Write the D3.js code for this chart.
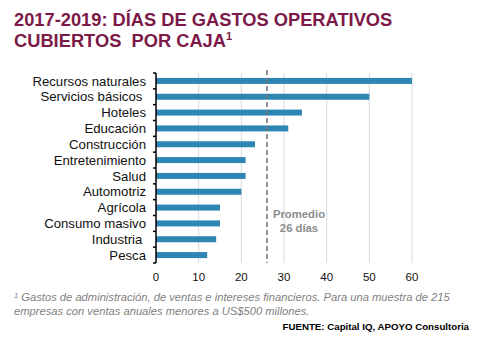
<!DOCTYPE html>
<html>
<head>
<meta charset="utf-8">
<script src="https://cdn.jsdelivr.net/npm/d3@7"></script>
<style>
  body { margin: 0; background: #fff; }
  text { font-family: "Liberation Sans", Arial, sans-serif; white-space: pre; }
</style>
</head>
<body>
<div id="chart"></div>
<script>
var categories = ["Recursos naturales", "Servicios básicos ", "Hoteles", "Educación",
    "Construcción", "Entretenimiento", "Salud", "Automotriz", "Agrícola",
    "Consumo masivo", "Industria ", "Pesca"];
var values = [60, 50, 34.2, 31, 23.2, 21, 21, 20, 15, 15, 14.1, 12];
var xTicks = [0, 10, 20, 30, 40, 50, 60];
var promedio = 26;

var width = 477, height = 339;
var margin = { top: 73, left: 156, right: 65, bottom: 76 };

var svg = d3.select("#chart")
    .append("svg")
    .attr("width", width)
    .attr("height", height)

// title
var title = svg.append("text")
    .attr("x", 14)
    .attr("y", 26)
    .attr("fill", "#7b1a48")
    .attr("font-size", 18.3)
    .attr("font-weight", "bold")
title.append("tspan").text("2017-2019: DÍAS DE GASTOS OPERATIVOS")
title.append("tspan").attr("x", 14).attr("dy", 21).text("CUBIERTOS  POR CAJA")
title.append("tspan").attr("font-size", 11).attr("dy", -7).text("1")

var x = d3.scaleLinear()
    .domain([0, 60])
    .range([margin.left, width - margin.right])

var y = d3.scaleBand()
    .domain(categories)
    .range([margin.top, height - margin.bottom])
    .paddingInner(0.62)
    .paddingOuter(0.31)

// grid lines
svg.append("g")
    .selectAll("line")
    .data(xTicks.slice(1))
    .enter().append("line")
    .attr("x1", d => x(d))
    .attr("x2", d => x(d))
    .attr("y1", margin.top)
    .attr("y2", height - margin.bottom)
    .attr("stroke", "#d9d9d9")
    .attr("stroke-width", 1)

// bars
svg.append("g")
    .selectAll("rect")
    .data(values)
    .enter().append("rect")
    .attr("x", x(0))
    .attr("y", (d, i) => y(categories[i]))
    .attr("width", d => x(d) - x(0))
    .attr("height", y.bandwidth())
    .attr("fill", "#2e86b4")

// average line
svg.append("line")
    .attr("x1", x(promedio))
    .attr("x2", x(promedio))
    .attr("y1", margin.top - 3)
    .attr("y2", height - margin.bottom)
    .attr("stroke", "#707070")
    .attr("stroke-width", 1.5)
    .attr("stroke-dasharray", "5,3")

var avgLabel = svg.append("text")
    .attr("x", 299)
    .attr("y", 218)
    .attr("text-anchor", "middle")
    .attr("fill", "#8c8c8c")
    .attr("font-size", 11.3)
    .attr("font-weight", "bold")
avgLabel.append("tspan").text("Promedio")
avgLabel.append("tspan").attr("x", 299).attr("dy", 14).text(promedio + " días")

// y axis: line + ticks at band boundaries
var yAxis = svg.append("g")
yAxis.append("line")
    .attr("x1", x(0))
    .attr("x2", x(0))
    .attr("y1", margin.top)
    .attr("y2", height - margin.bottom)
    .attr("stroke", "#000")
    .attr("stroke-width", 1.5)
var step = y.step()
yAxis.selectAll(".tick")
    .data(d3.range(categories.length + 1))
    .enter().append("line")
    .attr("x1", x(0) - 3)
    .attr("x2", x(0))
    .attr("y1", i => margin.top + i * step)
    .attr("y2", i => margin.top + i * step)
    .attr("stroke", "#000")
    .attr("stroke-width", 1.5)

yAxis.selectAll(".label")
    .data(categories)
    .enter().append("text")
    .attr("x", x(0) - 10)
    .attr("y", d => y(d) + y.bandwidth() / 2)
    .attr("dy", "0.35em")
    .attr("text-anchor", "end")
    .attr("font-size", 13.2)
    .attr("fill", "#111")
    .text(d => d)

// x tick labels
svg.append("g")
    .selectAll("text")
    .data(xTicks)
    .enter().append("text")
    .attr("x", d => x(d))
    .attr("y", 281)
    .attr("text-anchor", "middle")
    .attr("font-size", 11.5)
    .attr("fill", "#111")
    .text(d => d)

// footnote
var note = svg.append("text")
    .attr("x", 14)
    .attr("y", 301)
    .attr("font-size", 11.2)
    .attr("font-style", "italic")
    .attr("fill", "#7f7f7f")
note.append("tspan").attr("font-size", 7.5).attr("dy", -3).text("1")
note.append("tspan").attr("dy", 3).text(" Gastos de administración, de ventas e intereses financieros. Para una muestra de 215")
note.append("tspan").attr("x", 14).attr("dy", 13.5).text("empresas con ventas anuales menores a US$500 millones.")

svg.append("text")
    .attr("x", 469)
    .attr("y", 330)
    .attr("text-anchor", "end")
    .attr("font-size", 9.7)
    .attr("font-weight", "bold")
    .attr("fill", "#000")
    .text("FUENTE: Capital IQ, APOYO Consultoria")
</script>
</body>
</html>
